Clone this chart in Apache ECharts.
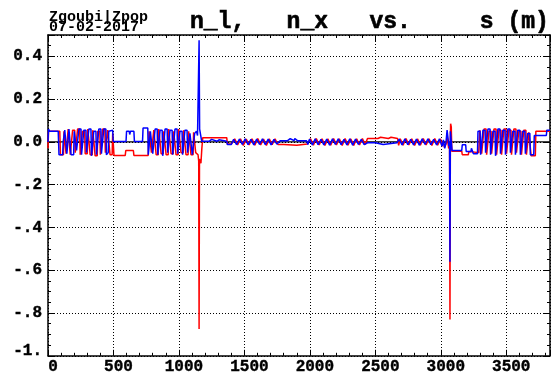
<!DOCTYPE html>
<html>
<head>
<meta charset="utf-8">
<script src="https://cdn.jsdelivr.net/npm/echarts@6/dist/echarts.min.js"></script>
<style>
html,body{margin:0;padding:0;background:#fff;}
#chart{width:551px;height:375px;}
</style>
</head>
<body>
<div id="chart"></div>
<script>
// ---- data (s in m, value) ----
const titleText = 'n_l,   n_x   vs.     s (m)';
const stampLines = ['Zgoubi|Zpop', '07-02-2017'];
const xTicks = [0, 500, 1000, 1500, 2000, 2500, 3000, 3500];
const yTicks = [-1, -0.8, -0.6, -0.4, -0.2, 0, 0.2, 0.4];
const yTickLabels = ['-1.', '-.8', '-.6', '-.4', '-.2', '0.0', '0.2', '0.4'];
const sRange = [0, 3834];
const nRange = [-1, 0.5];

// blue : n_x
const nx = [
[0,0],[4,0.06],[12,0.05],[20,0.055],[78,0.05],[84,-0.06],[112,-0.06],[116,0],[124,0],[128,0.055],[140,0.055],[144,-0.055],[156,-0.055],[160,0.06],[172,0.06],[176,-0.06],[196,-0.06],[200,0.05],[214,0.05],[218,-0.04],[232,-0.04],[236,0.06],[252,0.06],[256,-0.06],[270,-0.06],[274,0.055],[290,0.055],[294,-0.05],[308,-0.05],[312,0.06],[328,0.06],[332,-0.065],[346,-0.065],[350,0.05],[366,0.05],[370,-0.06],[384,-0.06],[388,0.06],[404,0.06],[408,-0.055],[422,-0.055],[426,0.06],[442,0.06],[446,-0.06],[460,-0.05],[464,0.05],[494,0.055],[498,0.002],[596,0.002],[600,0.05],[620,0.05],[624,0.035],[630,0.05],[656,0.05],[660,0.002],[722,0.002],[726,0.065],[762,0.065],
[766,-0.06],[778,-0.06],[782,0.05],[796,0.05],[800,-0.055],[814,-0.055],[818,0.06],[834,0.06],[838,-0.06],[852,-0.06],[856,0.055],[872,0.055],[876,-0.065],[890,-0.065],[894,0.06],[910,0.06],[914,-0.05],[928,-0.05],[932,0.055],[948,0.055],[952,-0.06],[966,-0.06],[970,0.06],[986,0.06],[990,-0.055],[1004,-0.055],[1008,0.05],[1024,0.05],[1028,-0.06],[1042,-0.06],[1046,0.055],[1062,0.055],[1066,-0.05],[1080,-0.045],[1084,0.04],[1098,0.045],[1102,-0.06],[1116,-0.06],[1120,0.04],[1134,0.05],[1142,0.03],[1150,0.03],[1154,0.475],[1158,0.06],[1170,0.06],[1174,0.003],[1230,0.003],[1234,0.012],[1250,0.012],[1254,0.003],[1290,0.003],[1294,0.01],[1306,0.01],[1310,0.003],[1365,0.003],[1370,-0.012],[1400,-0.012],
[1406,-0.012],[1418,0.012],[1428,0.014],[1440,-0.013],[1450,-0.014],[1462,0.013],[1472,0.015],[1484,-0.012],[1494,-0.014],[1506,0.014],[1516,0.013],[1528,-0.013],[1538,-0.015],[1550,0.012],[1560,0.014],[1572,-0.014],[1582,-0.013],[1594,0.013],[1604,0.015],[1616,-0.012],[1626,-0.014],[1638,0.014],[1648,0.012],[1660,-0.013],[1670,-0.015],[1682,0.013],[1692,0.014],[1704,-0.014],[1714,-0.012],[1726,0.012],[1736,0.013],[1748,-0.01],[1760,-0.012],[1775,0.006],
[1830,0.006],[1835,0.015],[1850,0.015],[1855,0.006],[1880,0.006],[1885,0.016],[1900,0.016],[1905,0.006],[1975,0.006],
[1985,-0.012],[1997,0.013],[2007,0.014],[2019,-0.014],[2029,-0.012],[2041,0.014],[2051,0.013],[2063,-0.013],[2073,-0.015],[2085,0.012],[2095,0.015],[2107,-0.014],[2117,-0.012],[2129,0.013],[2139,0.014],[2151,-0.015],[2161,-0.013],[2173,0.014],[2183,0.012],[2195,-0.012],[2205,-0.014],[2217,0.015],[2227,0.013],[2239,-0.013],[2249,-0.015],[2261,0.012],[2271,0.014],[2283,-0.014],[2293,-0.012],[2305,0.014],[2315,0.013],[2327,-0.015],[2337,-0.013],[2349,0.013],[2359,0.015],[2371,-0.012],[2381,-0.014],[2393,0.012],[2403,0.014],[2415,-0.013],[2425,-0.012],[2440,-0.004],
[2500,-0.004],[2505,-0.012],[2560,-0.012],[2565,-0.004],[2665,-0.004],
[2670,-0.012],[2682,0.013],[2692,0.014],[2704,-0.014],[2714,-0.012],[2726,0.014],[2736,0.013],[2748,-0.013],[2758,-0.015],[2770,0.012],[2780,0.015],[2792,-0.014],[2802,-0.012],[2814,0.013],[2824,0.014],[2836,-0.015],[2846,-0.013],[2858,0.014],[2868,0.012],[2880,-0.012],[2890,-0.014],[2902,0.015],[2912,0.013],[2924,-0.013],[2934,-0.015],[2946,0.012],[2956,0.014],[2968,-0.014],[2978,-0.012],[2990,0.014],
[3000,0.005],[3010,-0.02],[3020,0.01],[3030,-0.03],[3040,0.0],[3048,0.055],[3058,0.05],[3062,-0.02],[3067,0.0],[3070,-0.56],[3073,0.05],[3082,0.05],[3086,-0.04],[3160,-0.04],[3164,-0.013],[3190,-0.013],[3194,-0.045],[3230,-0.045],[3234,-0.03],[3245,-0.03],[3249,-0.055],[3280,-0.055],
[3284,0.05],[3300,0.05],[3304,-0.06],[3318,-0.06],[3322,0.055],[3338,0.055],[3342,-0.05],[3356,-0.05],[3360,0.06],[3376,0.06],[3380,-0.06],[3394,-0.06],[3398,0.05],[3414,0.05],[3418,-0.065],[3432,-0.065],[3436,0.06],[3452,0.06],[3456,-0.055],[3470,-0.055],[3474,0.055],[3490,0.055],[3494,-0.06],[3508,-0.06],[3512,0.06],[3528,0.06],[3532,-0.05],[3546,-0.05],[3550,0.05],[3566,0.05],[3570,-0.06],[3584,-0.06],[3588,0.055],[3604,0.055],[3608,-0.06],[3622,-0.06],[3626,0.05],[3642,0.05],[3646,-0.055],[3660,-0.055],[3664,0.04],[3680,0.04],[3684,-0.06],[3710,-0.06],[3714,0.03],[3806,0.03],[3810,0.055],[3834,0.055]
];

// red : n_l
const nl = [
[0,-0.03],[4,0.05],[90,0.05],[95,-0.06],[118,-0.06],[122,0.05],[134,0.05],[138,-0.055],[150,-0.055],[154,0.06],[166,0.06],[170,-0.06],[184,-0.06],[188,0.055],[204,0.055],[208,-0.05],[222,-0.05],[226,0.06],[242,0.06],[246,-0.06],[260,-0.06],[264,0.05],[280,0.05],[284,-0.055],[300,-0.055],[304,0.06],[318,0.06],[322,-0.06],[338,-0.06],[342,0.055],[356,0.055],[360,-0.065],[376,-0.065],[380,0.05],[396,0.05],[400,-0.06],[414,-0.06],[418,0.06],[434,0.06],[438,-0.05],[452,-0.05],[456,0.055],[470,0.055],[474,-0.06],[490,-0.06],[494,0.04],[500,0.04],[504,-0.063],[590,-0.063],[594,-0.04],[652,-0.04],[656,-0.063],[765,-0.063],
[772,0.05],[786,0.05],[790,-0.05],[804,-0.05],[808,0.055],[822,0.055],[826,-0.06],[842,-0.06],[846,0.06],[860,0.06],[864,-0.055],[880,-0.055],[884,0.05],[898,0.05],[902,-0.06],[918,-0.06],[922,0.06],[936,0.06],[940,-0.055],[956,-0.055],[960,0.05],[974,0.05],[978,-0.06],[994,-0.06],[998,0.06],[1012,0.06],[1016,-0.05],[1032,-0.05],[1036,0.055],[1050,0.055],[1054,-0.06],[1070,-0.06],[1074,0.05],[1088,0.05],[1092,-0.06],[1108,-0.06],[1112,0.045],[1124,0.045],[1128,-0.05],[1146,-0.06],[1151,-0.09],[1154,-0.875],[1157,-0.08],[1168,-0.1],[1175,-0.03],[1182,0.02],[1365,0.02],[1370,-0.01],
[1400,-0.01],[1414,-0.015],[1426,0.014],[1436,0.016],[1448,-0.014],[1458,-0.015],[1470,0.015],[1480,0.014],[1492,-0.016],[1502,-0.014],[1514,0.013],[1524,0.016],[1536,-0.014],[1546,-0.016],[1558,0.015],[1568,0.014],[1580,-0.015],[1590,-0.013],[1602,0.016],[1612,0.014],[1624,-0.014],[1634,-0.016],[1646,0.013],[1656,0.015],[1668,-0.016],[1678,-0.014],[1690,0.014],[1700,0.016],[1712,-0.013],[1722,-0.015],[1734,0.014],[1744,0.012],[1756,-0.012],[1775,-0.012],
[1800,-0.012],[1810,-0.016],[1900,-0.016],[1910,-0.01],[1980,-0.01],
[1993,-0.016],[2005,0.015],[2015,0.013],[2027,-0.015],[2037,-0.016],[2049,0.016],[2059,0.014],[2071,-0.014],[2081,-0.016],[2093,0.015],[2103,0.016],[2115,-0.016],[2125,-0.014],[2137,0.014],[2147,0.016],[2159,-0.015],[2169,-0.016],[2181,0.016],[2191,0.014],[2203,-0.014],[2213,-0.016],[2225,0.015],[2235,0.016],[2247,-0.016],[2257,-0.014],[2269,0.016],[2279,0.014],[2291,-0.015],[2301,-0.016],[2313,0.014],[2323,0.016],[2335,-0.016],[2345,-0.014],[2357,0.015],[2367,0.016],[2379,-0.014],[2389,-0.016],[2401,0.016],[2411,0.014],[2423,-0.012],[2440,0.016],
[2520,0.016],[2525,0.022],[2540,0.022],[2545,0.016],[2600,0.016],[2605,0.022],[2620,0.022],[2625,0.016],[2670,0.016],
[2678,-0.016],[2690,0.015],[2700,0.013],[2712,-0.015],[2722,-0.016],[2734,0.016],[2744,0.014],[2756,-0.014],[2766,-0.016],[2778,0.015],[2788,0.016],[2800,-0.016],[2810,-0.014],[2822,0.014],[2832,0.016],[2844,-0.015],[2854,-0.016],[2866,0.016],[2876,0.014],[2888,-0.014],[2898,-0.016],[2910,0.015],[2920,0.016],[2932,-0.016],[2942,-0.014],[2954,0.016],[2964,0.014],[2976,-0.015],[2986,-0.016],[2998,0.014],
[3008,-0.02],[3018,0.005],[3028,-0.025],[3040,-0.01],[3050,0.02],[3060,-0.03],[3067,-0.02],[3070,-0.83],[3073,0.0],[3075,0.085],[3080,0.07],[3084,-0.043],[3160,-0.043],[3164,-0.06],[3210,-0.06],[3214,-0.045],[3290,-0.05],
[3298,0.055],[3308,0.055],[3312,-0.055],[3326,-0.055],[3330,0.06],[3346,0.06],[3350,-0.06],[3364,-0.06],[3368,0.05],[3384,0.05],[3388,-0.055],[3402,-0.055],[3406,0.06],[3422,0.06],[3426,-0.06],[3440,-0.06],[3444,0.055],[3460,0.055],[3464,-0.06],[3478,-0.06],[3482,0.06],[3498,0.06],[3502,-0.055],[3516,-0.055],[3520,0.055],[3536,0.055],[3540,-0.06],[3554,-0.06],[3558,0.06],[3574,0.06],[3578,-0.05],[3592,-0.05],[3596,0.05],[3612,0.05],[3616,-0.06],[3630,-0.06],[3634,0.055],[3650,0.055],[3654,-0.06],[3668,-0.06],[3672,0.045],[3686,0.045],[3690,-0.065],[3722,-0.065],[3726,0.05],[3834,0.05]
];

// black : reference line at zero
const zeroLine = [[0,0],[3834,0]];

// ---- chart ----
const FONT = '"Liberation Mono", "Courier New", monospace';
const chart = echarts.init(document.getElementById('chart'), null, {renderer: 'canvas'});

function yLabel(v) {
  let best = 0, bd = 1e9;
  yTicks.forEach((t, i) => { const d = Math.abs(t - v); if (d < bd) { bd = d; best = i; } });
  if (bd > 1e-6) return '';
  return best === 0 ? '{lo|' + yTickLabels[best] + '}' : yTickLabels[best];
}

const labelFont = {color: '#000', fontFamily: FONT, fontWeight: 'bold', fontSize: 16,
  textBorderColor: '#000', textBorderWidth: 0.4};

const axisCommon = {
  type: 'value',
  axisLine: {show: true, onZero: false, lineStyle: {color: '#000', width: 1.5}},
  axisTick: {show: true, inside: true, length: 6, lineStyle: {color: '#000', width: 1}},
  minorTick: {show: true, length: 3, lineStyle: {color: '#000', width: 1}}
};

const option = {
  animation: false,
  backgroundColor: '#fff',
  grid: {left: 48, right: 1, top: 35, bottom: 16, containLabel: false},
  xAxis: [
    Object.assign({}, axisCommon, {
      position: 'bottom', min: sRange[0], max: sRange[1], interval: 500,
      minorTick: Object.assign({}, axisCommon.minorTick, {splitNumber: 5}),
      splitLine: {show: true, lineStyle: {color: '#000', width: 1, type: [1, 2]}},
      axisLabel: Object.assign({show: true, showMaxLabel: false, margin: 3, padding: [0, 0, 0, 10],
        formatter: v => (xTicks.indexOf(Math.round(v)) >= 0 ? String(Math.round(v)) : '')}, labelFont)
    }),
    Object.assign({}, axisCommon, {
      position: 'top', min: sRange[0], max: sRange[1], interval: 500,
      minorTick: Object.assign({}, axisCommon.minorTick, {splitNumber: 5}),
      splitLine: {show: false}, axisLabel: {show: false}
    })
  ],
  yAxis: [
    Object.assign({}, axisCommon, {
      position: 'left', min: nRange[0], max: nRange[1], interval: 0.2,
      minorTick: Object.assign({}, axisCommon.minorTick, {splitNumber: 4}),
      splitLine: {show: true, lineStyle: {color: '#000', width: 1, type: [1, 2]}},
      axisLabel: Object.assign({show: true, showMaxLabel: false, margin: 6, formatter: yLabel,
        rich: {lo: Object.assign({padding: [0, 0, 9, 0]}, labelFont)}}, labelFont)
    }),
    Object.assign({}, axisCommon, {
      position: 'right', min: nRange[0], max: nRange[1], interval: 0.2,
      minorTick: Object.assign({}, axisCommon.minorTick, {splitNumber: 4}),
      splitLine: {show: false}, axisLabel: {show: false}
    })
  ],
  graphic: [
    {type: 'text', x: 190, y: 22, silent: true,
      style: {text: titleText, font: 'bold 23px ' + FONT, fill: '#000', stroke: '#000', lineWidth: 0.6,
        align: 'left', verticalAlign: 'middle'}},
    {type: 'text', x: 49, y: 17, silent: true,
      style: {text: stampLines[0], font: 'bold 15px ' + FONT, fill: '#000', align: 'left', verticalAlign: 'middle'}},
    {type: 'text', x: 49, y: 27.5, silent: true,
      style: {text: stampLines[1], font: 'bold 15px ' + FONT, fill: '#000', align: 'left', verticalAlign: 'middle'}}
  ],
  series: [
    {type: 'line', name: 'zero', data: zeroLine, xAxisIndex: 0, yAxisIndex: 0, showSymbol: false,
      lineStyle: {color: '#000', width: 1.2}, z: 2},
    {type: 'line', name: 'n_l', data: nl, xAxisIndex: 0, yAxisIndex: 0, showSymbol: false,
      lineStyle: {color: '#ff0000', width: 1.5}, z: 3},
    {type: 'line', name: 'n_x', data: nx, xAxisIndex: 0, yAxisIndex: 0, showSymbol: false,
      lineStyle: {color: '#0000ff', width: 1.5}, z: 4}
  ]
};
chart.setOption(option);
</script>
</body>
</html>
